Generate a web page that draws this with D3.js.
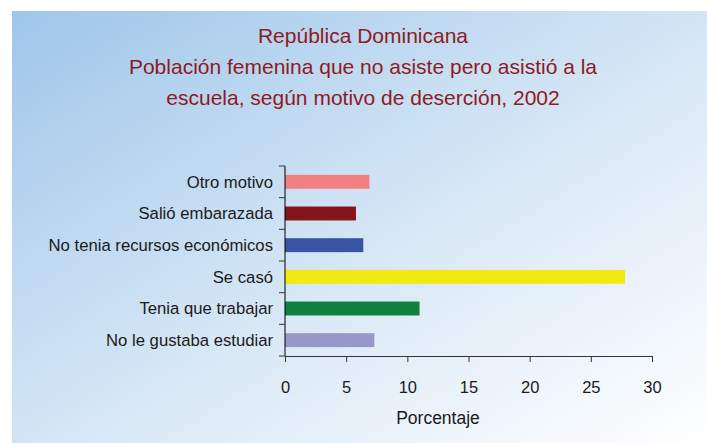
<!DOCTYPE html>
<html>
<head>
<meta charset="utf-8">
<script src="https://cdn.jsdelivr.net/npm/d3@7"></script>
<style>
  body { margin: 0; background: #fff; }
  svg { display: block; font-family: "Liberation Sans", Arial, sans-serif; }
</style>
</head>
<body>
<div id="chart"></div>
<script>
// data
const categories = ["Otro motivo", "Salió embarazada", "No tenia recursos económicos",
                    "Se casó", "Tenia que trabajar", "No le gustaba estudiar"];
const values = [6.9, 5.8, 6.4, 27.8, 11.0, 7.3];
const barColors = ["#f28080", "#85151a", "#3a53a4", "#f2e914", "#0f8040", "#9898c8"];
const xTicks = [0, 5, 10, 15, 20, 25, 30];
const titleLines = ["República Dominicana",
                    "Población femenina que no asiste pero asistió a la",
                    "escuela, según motivo de deserción, 2002"];

const width = 707, height = 443;
const margin = {top: 166, right: 55, bottom: 87, left: 285};

const svg = d3.select("#chart").append("svg")
    .attr("width", width)
    .attr("height", height);

// background panel gradient
const grad = svg.append("defs").append("linearGradient")
    .attr("id", "bg")
    .attr("x1", "0%").attr("y1", "0%")
    .attr("x2", "100%").attr("y2", "100%");
grad.append("stop").attr("offset", "0%").attr("stop-color", "#9fc6ea");
grad.append("stop").attr("offset", "55%").attr("stop-color", "#d8e8f6");
grad.append("stop").attr("offset", "100%").attr("stop-color", "#ffffff");

svg.append("rect")
    .attr("x", 12).attr("y", 11)
    .attr("width", width - 12).attr("height", height - 11)
    .attr("fill", "url(#bg)");

// title
svg.append("g").selectAll("text")
    .data(titleLines)
    .join("text")
    .attr("x", 363)
    .attr("y", (d, i) => 43 + i * 31)
    .attr("text-anchor", "middle")
    .attr("fill", "#8e1b22")
    .attr("font-size", 21)
    .text(d => d);

const x = d3.scaleLinear()
    .domain([0, 30])
    .range([margin.left, width - margin.right]);

const y = d3.scaleBand()
    .domain(categories)
    .range([margin.top, height - margin.bottom])
    .paddingInner(0.56)
    .paddingOuter(0.28);

// bars
svg.append("g").selectAll("rect")
    .data(values)
    .join("rect")
    .attr("x", x(0))
    .attr("y", (d, i) => y(categories[i]))
    .attr("width", d => x(d) - x(0))
    .attr("height", y.bandwidth())
    .attr("fill", (d, i) => barColors[i]);

// y axis: ticks sit between categories
const yAxis = svg.append("g");
const yTickPos = d3.range(categories.length + 1).map(i => margin.top + i * y.step());
yAxis.append("line")
    .attr("x1", x(0)).attr("x2", x(0))
    .attr("y1", margin.top).attr("y2", height - margin.bottom)
    .attr("stroke", "#000");
yAxis.selectAll(".tk")
    .data(yTickPos)
    .join("line")
    .attr("class", "tk")
    .attr("x1", x(0) - 6).attr("x2", x(0))
    .attr("y1", d => d).attr("y2", d => d)
    .attr("stroke", "#333");
yAxis.selectAll("text")
    .data(categories)
    .join("text")
    .attr("x", 273)
    .attr("y", d => y(d) + y.bandwidth() / 2)
    .attr("dy", "0.35em")
    .attr("text-anchor", "end")
    .attr("font-size", 16.7)
    .attr("fill", "#1a1a1a")
    .text(d => d);

// x axis
const xAxis = svg.append("g")
    .attr("transform", `translate(0,${height - margin.bottom})`)
    .call(d3.axisBottom(x).tickValues(xTicks).tickSize(6).tickPadding(19).tickSizeOuter(0));
xAxis.select(".domain").attr("stroke", "#333");
xAxis.selectAll(".tick line").attr("stroke", "#333");
xAxis.selectAll("text")
    .attr("font-size", 16.5)
    .attr("font-family", "Liberation Sans, Arial, sans-serif")
    .attr("fill", "#1a1a1a");

svg.append("text")
    .attr("x", 438)
    .attr("y", 424)
    .attr("text-anchor", "middle")
    .attr("font-size", 17.5)
    .attr("fill", "#1a1a1a")
    .text("Porcentaje");
</script>
</body>
</html>
